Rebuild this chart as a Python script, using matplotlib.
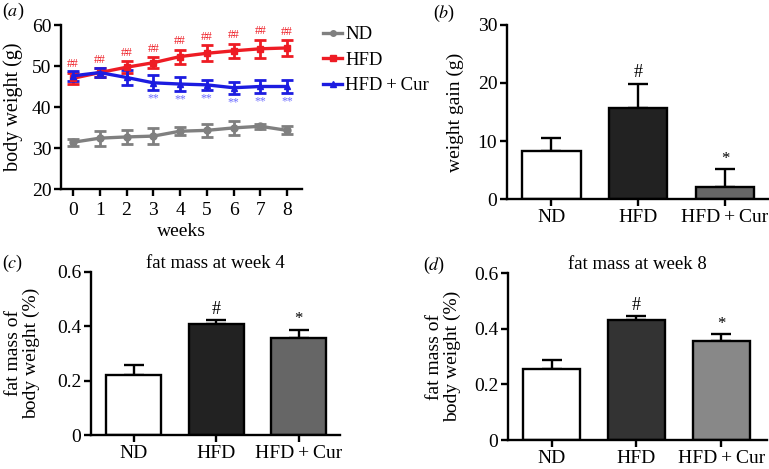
import matplotlib
matplotlib.use("Agg")
import matplotlib.pyplot as plt
from matplotlib.lines import Line2D
import numpy as np

plt.rcParams['font.family'] = ['Liberation Serif', 'DejaVu Serif']
plt.rcParams['mathtext.fontset'] = 'stix'
plt.rcParams['font.size'] = 14

# ---- data ----
weeks = [0, 1, 2, 3, 4, 5, 6, 7, 8]
nd_mean = [31.4, 32.4, 32.7, 32.9, 34.1, 34.3, 34.9, 35.3, 34.3]
nd_err = [0.9, 1.8, 1.8, 2.0, 0.9, 1.5, 1.7, 0.6, 1.0]
hfd_mean = [47.0, 48.4, 49.7, 50.8, 52.3, 53.1, 53.7, 54.2, 54.4]
hfd_err = [1.4, 1.0, 1.5, 1.4, 1.7, 1.9, 1.7, 2.2, 1.9]
cur_mean = [47.6, 48.4, 47.2, 45.9, 45.6, 45.4, 44.7, 45.0, 45.0]
cur_err = [1.2, 1.0, 1.8, 1.8, 1.7, 1.2, 1.5, 1.5, 1.5]
hfd_sig_weeks = [0, 1, 2, 3, 4, 5, 6, 7, 8]
cur_sig_weeks = [3, 4, 5, 6, 7, 8]

groups = ['ND', 'HFD', 'HFD\u2009+\u2009Cur']
gain_mean = [8.2, 15.7, 2.1]
gain_err = [2.3, 4.2, 3.1]
fat4_mean = [0.222, 0.407, 0.357]
fat4_err = [0.037, 0.015, 0.031]
fat8_mean = [0.254, 0.430, 0.355]
fat8_err = [0.033, 0.014, 0.025]
bar_marks = ['', '#', '*']

W, H = 769, 469
fig = plt.figure(figsize=(W / 100, H / 100), dpi=100)

def pos(l, r, t, b):
    return [l / W, 1 - b / H, (r - l) / W, (b - t) / H]

LW = 1.7

def style(ax):
    for s in ['top', 'right']:
        ax.spines[s].set_visible(False)
    for s in ['left', 'bottom']:
        ax.spines[s].set_linewidth(LW)
    ax.tick_params(width=LW, length=5, direction='out', pad=2, labelsize=14)

# ---- panel a ----
axa = fig.add_axes(pos(61, 302, 25, 189))
style(axa)
axa.tick_params(axis='x', pad=4)
grey, red, blue = '#808080', '#ee1c24', '#1c1ce0'
series = [(nd_mean, nd_err, grey, 'o', 'ND'),
          (hfd_mean, hfd_err, red, 's', 'HFD'),
          (cur_mean, cur_err, blue, '^', 'HFD\u2009+\u2009Cur')]
handles = []
for m, e, c, mk, lab in series:
    axa.errorbar(weeks, m, yerr=e, color=c, marker=mk, ms=5,
                 lw=2.4, elinewidth=2, capsize=4, capthick=2)
    handles.append(Line2D([], [], color=c, marker=mk, ms=4, lw=2.4, label=lab))
for w in hfd_sig_weeks:
    axa.text(w, hfd_mean[w] + hfd_err[w] + 0.6, '##', color=red, fontsize=8.5,
             ha='center', va='bottom')
for w in cur_sig_weeks:
    axa.text(w, cur_mean[w] - cur_err[w] - 0.6, '**', color='#6a6aff', fontsize=8.5,
             ha='center', va='top')
axa.set_xlim(-0.45, 8.56)
axa.set_ylim(20, 60)
axa.set_xticks(weeks)
axa.set_yticks([20, 30, 40, 50, 60])
axa.set_xlabel('weeks', labelpad=3, fontsize=14)
axa.set_ylabel('body weight (g)', labelpad=6, fontsize=14.5)
axa.legend(handles=handles, loc='upper left', bbox_to_anchor=(1.05, 1.05), frameon=False,
           handlelength=1.0, handletextpad=0.15, labelspacing=0.45,
           borderaxespad=0.1, fontsize=13.5)
fig.text(2 / W, 1 - 11 / H, r'($\it{a}$)', fontsize=13, va='center', ha='left')

def bar_panel(ax, means, errs, colors, ylim, yticks, ylabel, marks, markoff, xlim,
              title=None, lpad=5):
    style(ax)
    x = np.arange(len(groups))
    ax.bar(x, means, width=0.67, color=colors, edgecolor='black', linewidth=LW, zorder=2)
    ax.errorbar(x, means, yerr=[np.zeros(len(means)), errs], fmt='none', ecolor='black',
                elinewidth=LW, capsize=7.5, capthick=LW, zorder=1)
    for i, m in enumerate(marks):
        if m:
            ax.text(x[i], means[i] + errs[i] + markoff, m, ha='center', va='bottom',
                    fontsize=13 if m == '#' else 12)
    ax.set_xticks(x)
    ax.set_xticklabels(groups)
    ax.set_xlim(*xlim)
    ax.set_ylim(*ylim)
    ax.set_yticks(yticks)
    ax.set_yticklabels([('%g' % t) for t in yticks])
    ax.set_ylabel(ylabel, labelpad=lpad, fontsize=14, linespacing=1.05)
    if title:
        ax.set_title(title, fontsize=13.5, pad=1)

# ---- panel b ----
axb = fig.add_axes(pos(507, 768, 25, 199))
bar_panel(axb, gain_mean, gain_err, ['white', '#222222', '#666666'], (0, 30),
          [0, 10, 20, 30], 'weight gain (g)', bar_marks, 0.4, (-0.513, 2.496), lpad=10)
fig.text(433 / W, 1 - 13 / H, r'($\it{b}$)', fontsize=13, va='center', ha='left')

# ---- panel c ----
axc = fig.add_axes(pos(91, 340, 272, 435))
bar_panel(axc, fat4_mean, fat4_err, ['white', '#222222', '#666666'], (0, 0.6),
          [0, 0.2, 0.4, 0.6], 'fat mass of\nbody weight (%)', bar_marks, 0.008,
          (-0.52, 2.5), title='fat mass at week 4', lpad=12)
fig.text(2 / W, 1 - 263 / H, r'($\it{c}$)', fontsize=13, va='center', ha='left')

# ---- panel d ----
axd = fig.add_axes(pos(508, 767, 273, 440))
bar_panel(axd, fat8_mean, fat8_err, ['white', '#333333', '#888888'], (0, 0.6),
          [0, 0.2, 0.4, 0.6], 'fat mass of\nbody weight (%)', bar_marks, 0.008,
          (-0.513, 2.54), title='fat mass at week 8', lpad=9)
fig.text(423 / W, 1 - 265 / H, r'($\it{d}$)', fontsize=13, va='center', ha='left')

fig.savefig('out.png', dpi=100)
